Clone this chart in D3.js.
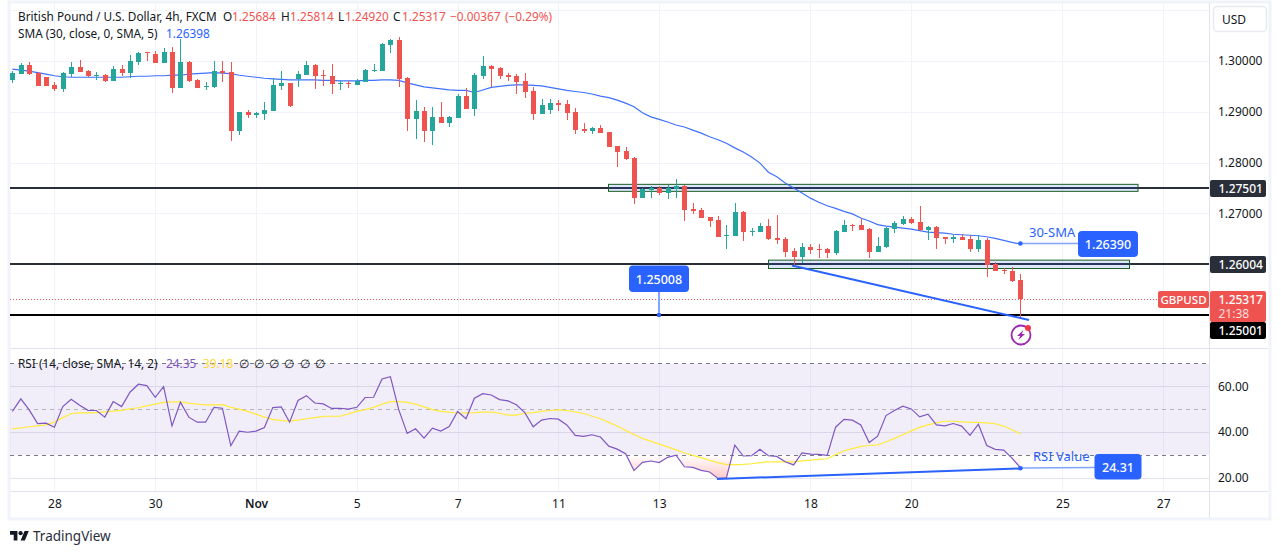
<!DOCTYPE html>
<html><head><meta charset="utf-8">
<script src="https://cdnjs.cloudflare.com/ajax/libs/d3/7.8.5/d3.min.js"></script>
<style>
html,body{margin:0;padding:0;background:#fff;overflow:hidden}
svg{display:block}
text{font-family:"Noto Sans",sans-serif;fill:#131722}
</style></head><body><svg id="c" width="1281" height="554"></svg>
<script>
const priceOpen=[1.2963,1.2974,1.2992,1.2976,1.2968,1.2953,1.2945,1.2974,1.2988,1.2980,1.2970,1.2972,1.2961,1.2984,1.2976,1.2998,1.3017,1.3014,1.2996,1.3018,1.2947,1.2998,1.2963,1.2949,1.2949,1.2980,1.2978,1.2862,1.2900,1.2894,1.2896,1.2902,1.2951,1.2957,1.2965,1.2972,1.2992,1.2972,1.2970,1.2955,1.2957,1.2953,1.2959,1.2980,1.2980,1.3032,1.3041,1.2967,1.2886,1.2902,1.2862,1.2890,1.2878,1.2888,1.2931,1.2905,1.2970,1.2990,1.2986,1.2972,1.2970,1.2961,1.2941,1.2896,1.2904,1.2917,1.2915,1.2900,1.2866,1.2862,1.2868,1.2860,1.2833,1.2823,1.2809,1.2730,1.2746,1.2750,1.2740,1.2748,1.2754,1.2709,1.2707,1.2693,1.2687,1.2655,1.2655,1.2703,1.2663,1.2663,1.2675,1.2652,1.2650,1.2626,1.2614,1.2634,1.2630,1.2630,1.2622,1.2663,1.2677,1.2677,1.2669,1.2624,1.2634,1.2669,1.2679,1.2689,1.2683,1.2667,1.2673,1.2654,1.2650,1.2654,1.2650,1.2630,1.2648,1.2600,1.2588,1.2586,1.25684];
const priceHigh=[1.2980,1.2996,1.2998,1.2978,1.2968,1.2959,1.2978,1.2998,1.3002,1.2982,1.2978,1.2974,1.2990,1.2992,1.3012,1.3018,1.3018,1.3020,1.3026,1.3028,1.3043,1.3000,1.2965,1.2959,1.3000,1.3000,1.2998,1.2900,1.2904,1.2900,1.2919,1.2967,1.2980,1.2957,1.2980,1.3000,1.2994,1.2982,1.2994,1.2963,1.2961,1.2965,1.2984,1.2994,1.3035,1.3043,1.3047,1.2968,1.2923,1.2909,1.2909,1.2919,1.2892,1.2935,1.2947,1.2976,1.3010,1.2992,1.2988,1.2976,1.2974,1.2976,1.2949,1.2925,1.2925,1.2923,1.2923,1.2907,1.2878,1.2870,1.2874,1.2860,1.2833,1.2831,1.2811,1.2750,1.2754,1.2754,1.2756,1.2768,1.2756,1.2720,1.2711,1.2693,1.2695,1.2677,1.2720,1.2705,1.2671,1.2681,1.2689,1.2697,1.2654,1.2632,1.2642,1.2640,1.2640,1.2632,1.2667,1.2687,1.2679,1.2689,1.2671,1.2654,1.2673,1.2685,1.2695,1.2693,1.2714,1.2675,1.2675,1.2654,1.2657,1.2659,1.2657,1.2657,1.2652,1.2604,1.2592,1.2594,1.25814];
const priceLow=[1.2957,1.2974,1.2972,1.2951,1.2951,1.2941,1.2939,1.2968,1.2978,1.2968,1.2963,1.2959,1.2961,1.2970,1.2967,1.2992,1.3000,1.2996,1.2996,1.2937,1.2947,1.2959,1.2947,1.2943,1.2947,1.2959,1.2843,1.2854,1.2888,1.2888,1.2884,1.2902,1.2943,1.2909,1.2949,1.2972,1.2945,1.2951,1.2935,1.2943,1.2947,1.2953,1.2959,1.2978,1.2980,1.3016,1.2949,1.2862,1.2846,1.2841,1.2835,1.2878,1.2870,1.2888,1.2905,1.2892,1.2965,1.2949,1.2965,1.2961,1.2935,1.2927,1.2884,1.2896,1.2896,1.2902,1.2884,1.2856,1.2858,1.2856,1.2858,1.2831,1.2791,1.2805,1.2718,1.2730,1.2730,1.2736,1.2728,1.2730,1.2685,1.2699,1.2691,1.2673,1.2654,1.2630,1.2655,1.2646,1.2655,1.2663,1.2648,1.2640,1.2614,1.2594,1.2602,1.2620,1.2612,1.2612,1.2618,1.2663,1.2665,1.2667,1.2612,1.2624,1.2632,1.2661,1.2677,1.2679,1.2665,1.2648,1.2630,1.2640,1.2642,1.2648,1.2624,1.2624,1.2575,1.2586,1.2581,1.2565,1.2492];
const priceClose=[1.2976,1.2992,1.2974,1.2951,1.2951,1.2945,1.2976,1.2988,1.2978,1.2970,1.2972,1.2961,1.2984,1.2976,1.3000,1.3016,1.3015,1.2996,1.3018,1.2947,1.2998,1.2961,1.2947,1.2951,1.2980,1.2976,1.2862,1.2900,1.2894,1.2898,1.2904,1.2953,1.2957,1.2911,1.2974,1.2992,1.2970,1.2970,1.2955,1.2957,1.2955,1.2961,1.2982,1.2982,1.3033,1.3041,1.2965,1.2886,1.2902,1.2862,1.2890,1.2878,1.2890,1.2931,1.2905,1.2972,1.2990,1.2984,1.2970,1.2968,1.2959,1.2939,1.2896,1.2913,1.2917,1.2913,1.2898,1.2864,1.2862,1.2868,1.2858,1.2831,1.2821,1.2807,1.2730,1.2748,1.2750,1.2740,1.2750,1.2754,1.2707,1.2705,1.2691,1.2685,1.2654,1.2657,1.2703,1.2663,1.2665,1.2675,1.2650,1.2648,1.2624,1.2614,1.2634,1.2628,1.2628,1.2622,1.2665,1.2677,1.2675,1.2667,1.2624,1.2636,1.2671,1.2681,1.2689,1.2681,1.2667,1.2673,1.2652,1.2650,1.2654,1.2648,1.2630,1.2648,1.2598,1.2586,1.2586,1.2567,1.25317];
const smaValues=[1.2984,1.2982,1.2980,1.2977,1.2974,1.2971,1.2969,1.2968,1.2968,1.2968,1.2968,1.2968,1.2968,1.2968,1.2969,1.2970,1.2970,1.2971,1.2971,1.2972,1.2972,1.2974,1.2975,1.2976,1.2977,1.2976,1.2975,1.2972,1.2970,1.2968,1.2966,1.2965,1.2964,1.2963,1.2963,1.2963,1.2963,1.2962,1.2962,1.2961,1.2961,1.2961,1.2962,1.2962,1.2963,1.2963,1.2962,1.2957,1.2953,1.2949,1.2947,1.2945,1.2943,1.2942,1.2942,1.2938,1.2943,1.2948,1.2950,1.2952,1.2953,1.2953,1.2952,1.2951,1.2948,1.2945,1.2942,1.2940,1.2938,1.2935,1.2931,1.2928,1.2923,1.2917,1.2910,1.2898,1.2890,1.2885,1.2880,1.2874,1.2870,1.2864,1.2858,1.2851,1.2845,1.2838,1.2829,1.2821,1.2811,1.2799,1.2781,1.2772,1.2760,1.2750,1.2740,1.2730,1.2722,1.2715,1.2710,1.2704,1.2699,1.2691,1.2685,1.2678,1.2675,1.2673,1.2671,1.2669,1.2666,1.2663,1.2662,1.2661,1.2659,1.2658,1.2657,1.2656,1.2654,1.2651,1.2647,1.2643,1.26398];
const rsiValues=[49.0,54.5,49.7,43.7,43.9,42.1,51.1,54.3,51.7,49.5,49.4,46.5,53.3,51.1,57.4,60.9,60.3,55.2,59.9,42.7,53.0,46.5,44.3,44.3,50.8,50.4,34.0,40.4,39.9,40.4,42.0,50.7,51.0,44.3,53.8,55.9,52.7,52.3,50.3,50.4,50.0,50.8,55.1,55.2,63.2,64.2,49.7,39.4,41.4,37.3,41.7,40.4,42.4,49.0,45.8,54.8,56.8,56.2,54.2,53.6,51.9,48.5,42.3,45.2,45.9,45.6,43.1,38.5,38.1,38.8,37.8,33.8,32.5,30.5,23.1,26.7,27.3,26.6,28.9,29.9,24.8,24.5,23.2,22.5,19.7,19.9,34.3,29.5,29.6,32.4,29.6,29.3,27.0,25.6,30.9,30.3,30.2,29.8,42.1,45.5,45.2,43.1,35.4,38.2,47.2,49.4,51.3,50.1,46.6,47.8,43.1,42.7,43.7,42.6,38.5,43.4,34.1,32.4,32.1,28.6,24.35];
const rsiMaValues=[41.4,41.8,42.3,42.7,43.1,44.3,46.3,48.1,48.4,48.4,48.5,48.8,49.1,49.5,50.1,50.6,51.4,52.2,53.0,53.2,53.2,52.6,52.2,51.9,51.9,52.0,50.8,50.0,49.0,47.8,46.5,45.5,45.0,44.9,45.2,45.8,46.3,46.8,46.9,46.9,47.9,49.0,49.8,50.8,52.2,53.3,53.3,53.0,52.2,51.0,49.8,49.0,48.7,48.2,48.4,48.5,48.7,48.7,48.2,47.4,47.4,48.2,48.5,49.0,49.4,49.7,49.4,48.8,48.1,46.9,45.8,44.2,42.6,40.7,38.9,37.2,36.0,34.7,33.5,32.2,30.9,29.8,28.8,27.6,26.6,25.7,25.7,25.8,26.1,26.6,26.9,26.9,26.9,26.9,27.4,27.7,28.0,28.3,30.1,31.8,32.7,33.7,34.1,34.4,35.6,37.2,38.8,40.5,42.0,43.1,44.0,44.7,44.7,44.4,44.2,44.2,44.0,43.6,42.6,41.0,39.18];
const timeTickBars=[5,17,29,41,53,65,77,95,107,125,137];
const timeTickLabels=["28","30","Nov","5","7","11","13","18","20","25","27"];
const priceTicks=[1.30,1.29,1.28,1.27];
const priceGrid=[1.31,1.30,1.29,1.28,1.27,1.26,1.25];
const rsiTicks=[60,40,20];
const levels=[1.27501,1.26004,1.25001];

const svg=d3.select("#c");
const x=d3.scaleLinear().domain([0,120]).range([12.4,1020.4]);
const y=d3.scaleLinear().domain([1.30,1.25]).range([61,315]);
const r=d3.scaleLinear().domain([60,20]).range([386.3,477.7]);
const L=10,R=1209,UP="#26a69a",DN="#ef5350",BLUE="#2962ff",LB="#82a5ff",FS=12;
const px=v=>Math.round(v)+.5;

function hline(g,yy,c,w,d,x0=L,x1=R){g.append("line").attr("x1",x0).attr("x2",x1).attr("y1",yy).attr("y2",yy).attr("stroke",c).attr("stroke-width",w).attr("stroke-dasharray",d||null);}
function txt(g,xx,yy,s,fs,c,a,fw){return g.append("text").attr("x",xx).attr("y",yy).text(s).attr("font-size",fs).style("fill",c).attr("text-anchor",a||"start").attr("font-weight",fw||400);}

// frame
svg.append("rect").attr("x",9).attr("y",2).attr("width",1261).attr("height",517).attr("fill","#fff").attr("stroke","#f0f3fa").attr("stroke-width",3);

// grid
const grid=svg.append("g").attr("shape-rendering","crispEdges");
timeTickBars.forEach(b=>{grid.append("line").attr("x1",px(x(b))).attr("x2",px(x(b))).attr("y1",3).attr("y2",491).attr("stroke","#f0f3fa");});
priceGrid.forEach(p=>hline(grid,px(y(p)),"#f0f3fa",1));

// RSI band
svg.append("rect").attr("x",L).attr("width",R-L).attr("y",r(70)).attr("height",r(30)-r(70)).attr("fill","#7e57c2").attr("fill-opacity",.1);
rsiTicks.forEach(t=>hline(grid,px(r(t)),"#e6e4ef",1));
hline(svg,px(r(70)),"#787b86",1,"4 4");
hline(svg,px(r(30)),"#787b86",1,"4 4");
hline(svg,px(r(50)),"#b4b5bc",1,"4 4");

// pane separators
const sep=svg.append("g").attr("shape-rendering","crispEdges");
hline(sep,348.5,"#e0e3eb",1,null,L,1268);
hline(sep,491.5,"#e0e3eb",1,null,L,1268);
sep.append("line").attr("x1",1209.5).attr("x2",1209.5).attr("y1",3).attr("y2",518).attr("stroke","#e0e3eb");

// levels
hline(svg,y(levels[0]),"#2a2e39",2);
hline(svg,y(levels[1]),"#2a2e39",2);
hline(svg,y(levels[2]),"#000",2);

// zones
const zones=[[1.27572,1.27434,608.5,1138],[1.26080,1.25915,768.5,1129.5]];
svg.selectAll(".zone").data(zones).join("rect").attr("x",d=>d[2]).attr("width",d=>d[3]-d[2]).attr("y",d=>y(d[0])).attr("height",d=>y(d[1])-y(d[0])).attr("fill","#2962ff").attr("fill-opacity",.16).attr("stroke","#1b5e20").attr("stroke-width",1);

// current price dotted
svg.append("line").attr("x1",L).attr("x2",1158).attr("y1",px(y(priceClose[120]))).attr("y2",px(y(priceClose[120]))).attr("stroke",DN).attr("stroke-dasharray","1 2");

// SMA
const sma=d3.line().x((d,i)=>x(i)).y(d=>y(d));
svg.append("path").attr("d",sma(smaValues)).attr("fill","none").attr("stroke",BLUE).attr("stroke-opacity",.9).attr("stroke-width",1.2);

// candles
const bars=d3.range(priceOpen.length);
const cg=svg.append("g").attr("shape-rendering","crispEdges");
cg.selectAll(".w").data(bars).join("line").attr("x1",i=>px(x(i))).attr("x2",i=>px(x(i))).attr("y1",i=>y(priceHigh[i])).attr("y2",i=>y(priceLow[i])).attr("stroke",i=>priceClose[i]>=priceOpen[i]?UP:DN);
cg.selectAll(".b").data(bars).join("rect").attr("x",i=>Math.round(x(i))-2).attr("width",5)
 .attr("y",i=>y(Math.max(priceOpen[i],priceClose[i])))
 .attr("height",i=>Math.max(1,Math.abs(y(priceOpen[i])-y(priceClose[i]))))
 .attr("fill",i=>priceClose[i]>=priceOpen[i]?UP:DN);

// trend
svg.append("line").attr("x1",792).attr("y1",265.5).attr("x2",1029).attr("y2",320).attr("stroke",BLUE).attr("stroke-width",2);

// SMA callout
svg.append("line").attr("x1",x(120)).attr("x2",1080).attr("y1",243.5).attr("y2",243.5).attr("stroke",LB).attr("stroke-width",1.5);
svg.append("circle").attr("cx",x(120)).attr("cy",243.5).attr("r",2.3).attr("fill",BLUE);
txt(svg,1029,237,"30-SMA",13,BLUE);
svg.append("rect").attr("x",1078).attr("y",231).attr("width",60).attr("height",26).attr("rx",4).attr("fill",BLUE);
txt(svg,1108,248.5,"1.26390",12.5,"#fff","middle",500);

// 1.25008 callout
svg.append("line").attr("x1",659).attr("x2",659).attr("y1",291).attr("y2",315).attr("stroke",LB).attr("stroke-width",2);
svg.append("rect").attr("x",657).attr("y",313).attr("width",4).attr("height",4).attr("rx",1).attr("fill",BLUE);
svg.append("rect").attr("x",629).attr("y",265.5).attr("width",60).attr("height",26.5).attr("rx",4).attr("fill",BLUE);
txt(svg,659,283.5,"1.25008",12.5,"#fff","middle",500);

// signal icon
const ic=svg.append("g").attr("transform","translate(1021,335)");
ic.append("circle").attr("r",9.5).attr("fill","#fff").attr("stroke","#9c27b0").attr("stroke-width",1.8);
ic.append("path").attr("d","M2.5,-5 L-4,1 L-0.8,1 L-2.5,5 L4,-1 L0.8,-1 Z").attr("fill","#9c27b0");
ic.append("circle").attr("cx",7).attr("cy",-7).attr("r",3).attr("fill","#f23645");

// RSI oversold fill
const defs=svg.append("defs");
const gr=defs.append("linearGradient").attr("id","os").attr("gradientUnits","userSpaceOnUse").attr("x1",0).attr("x2",0).attr("y1",r(30)).attr("y2",r(20));
gr.append("stop").attr("offset",0).attr("stop-color","#ff5252").attr("stop-opacity",0);
gr.append("stop").attr("offset",1).attr("stop-color","#ff5252").attr("stop-opacity",.3);
defs.append("clipPath").attr("id","below").append("rect").attr("x",L).attr("width",R-L).attr("y",r(30)).attr("height",60);
svg.append("path").attr("clip-path","url(#below)").attr("d",d3.area().x((d,i)=>x(i)).y0(r(30)).y1(d=>r(d))(rsiValues)).attr("fill","url(#os)");

// RSI lines
const rl=d3.line().x((d,i)=>x(i)).y(d=>r(d));
svg.append("path").attr("d",rl(rsiMaValues)).attr("fill","none").attr("stroke","#ffeb3b").attr("stroke-width",1.2);
svg.append("path").attr("d",rl(rsiValues)).attr("fill","none").attr("stroke","#7e57c2").attr("stroke-width",1.2);

// RSI trend + callout
svg.append("line").attr("x1",717).attr("y1",479).attr("x2",x(120)).attr("y2",468.5).attr("stroke",BLUE).attr("stroke-width",2);
svg.append("line").attr("x1",x(120)).attr("x2",1096).attr("y1",468).attr("y2",467.5).attr("stroke",LB).attr("stroke-width",1.5);
svg.append("circle").attr("cx",x(120)).attr("cy",468.3).attr("r",2.3).attr("fill",BLUE);
txt(svg,1033,460.5,"RSI Value",13,BLUE);
svg.append("rect").attr("x",1094.5).attr("y",454).attr("width",47).attr("height",25.5).attr("rx",4).attr("fill",BLUE);
txt(svg,1118,471.5,"24.31",12.5,"#fff","middle",500);

// axes
const pa=svg.append("g").attr("transform","translate(1209,0)").call(d3.axisRight(y).tickValues(priceTicks).tickSize(0).tickPadding(9).tickFormat(d3.format(".5f")));
pa.select(".domain").remove();pa.selectAll("text").attr("font-size",FS).style("font-family",'"Noto Sans",sans-serif').style("fill","#131722");
const ra=svg.append("g").attr("transform","translate(1209,0)").call(d3.axisRight(r).tickValues(rsiTicks).tickSize(0).tickPadding(9).tickFormat(d3.format(".2f")));
ra.select(".domain").remove();ra.selectAll("text").attr("font-size",FS).style("font-family",'"Noto Sans",sans-serif').style("fill","#131722");
const ta=svg.append("g").attr("transform","translate(0,491)").call(d3.axisBottom(x).tickValues(timeTickBars).tickSize(0).tickPadding(8).tickFormat((d,i)=>timeTickLabels[i]));
ta.select(".domain").remove();ta.selectAll("text").attr("font-size",FS).style("font-family",'"Noto Sans",sans-serif').style("fill","#131722").attr("font-weight",(d,i)=>timeTickLabels[i]==="Nov"?600:400);

// price labels
const tags=[[levels[0],"#2a2e39",180,17],[levels[1],"#2a2e39",256,17],[levels[2],"#000",322,17]];
tags.forEach(t=>{svg.append("rect").attr("x",1210).attr("y",t[2]).attr("width",56).attr("height",t[3]).attr("rx",2).attr("fill",t[1]);
 txt(svg,1218.5,t[2]+13,d3.format(".5f")(t[0]),FS,"#fff",null,500);});
svg.append("rect").attr("x",1210).attr("y",291).attr("width",56).attr("height",31).attr("rx",2).attr("fill",DN);
txt(svg,1218.5,303.5,d3.format(".5f")(priceClose[120]),FS,"#fff",null,500);
txt(svg,1218.5,318,"21:38",FS,"#ffdede");
svg.append("rect").attr("x",1158).attr("y",291).attr("width",51).attr("height",17).attr("rx",2).attr("fill",DN);
txt(svg,1183.5,304,"GBPUSD",11.5,"#fff","middle",500);
svg.append("rect").attr("x",1213.5).attr("y",6.5).attr("width",53).attr("height",25).attr("rx",4).attr("fill","#fff").attr("stroke","#e8eaf0").attr("stroke-width",1.5);
txt(svg,1222,24,"USD",FS,"#131722");

// legends
const LF=11.8;
txt(svg,18,21,"British Pound / U.S. Dollar, 4h, FXCM",LF,"#131722");
[[223,"O"],[281,"H"],[338,"L"],[393,"C"]].forEach(d=>txt(svg,d[0],21,d[1],LF,"#131722"));
[[232,"1.25684"],[290,"1.25814"],[345,"1.24920"],[402,"1.25317"],[450,"−0.00367"],[505,"(−0.29%)"]].forEach(d=>txt(svg,d[0],21,d[1],LF,DN));
txt(svg,18,38,"SMA (30, close, 0, SMA, 5)",LF,"#131722");
txt(svg,166,38,"1.26398",LF,BLUE);
txt(svg,18,368,"RSI (14, close, SMA, 14, 2)",LF,"#131722");
txt(svg,166,368,"24.35",LF,"#7e57c2");
txt(svg,203,368,"39.18",LF,"#fdd835");
[244,259,274,289,305,320].forEach(v=>txt(svg,v,368,"∅",LF,"#131722","middle"));

// logo
const lg=svg.append("g").attr("transform","translate(10,528.9) scale(.53)");
lg.append("path").attr("d","M14 22H7V11H0V4h14v18zM28 22h-8l7.5-18h8L28 22z").attr("fill","#131722");
lg.append("circle").attr("cx",20).attr("cy",8).attr("r",4).attr("fill","#131722");
txt(svg,33,541,"TradingView",13.5,"#2a2e39");
</script></body></html>
